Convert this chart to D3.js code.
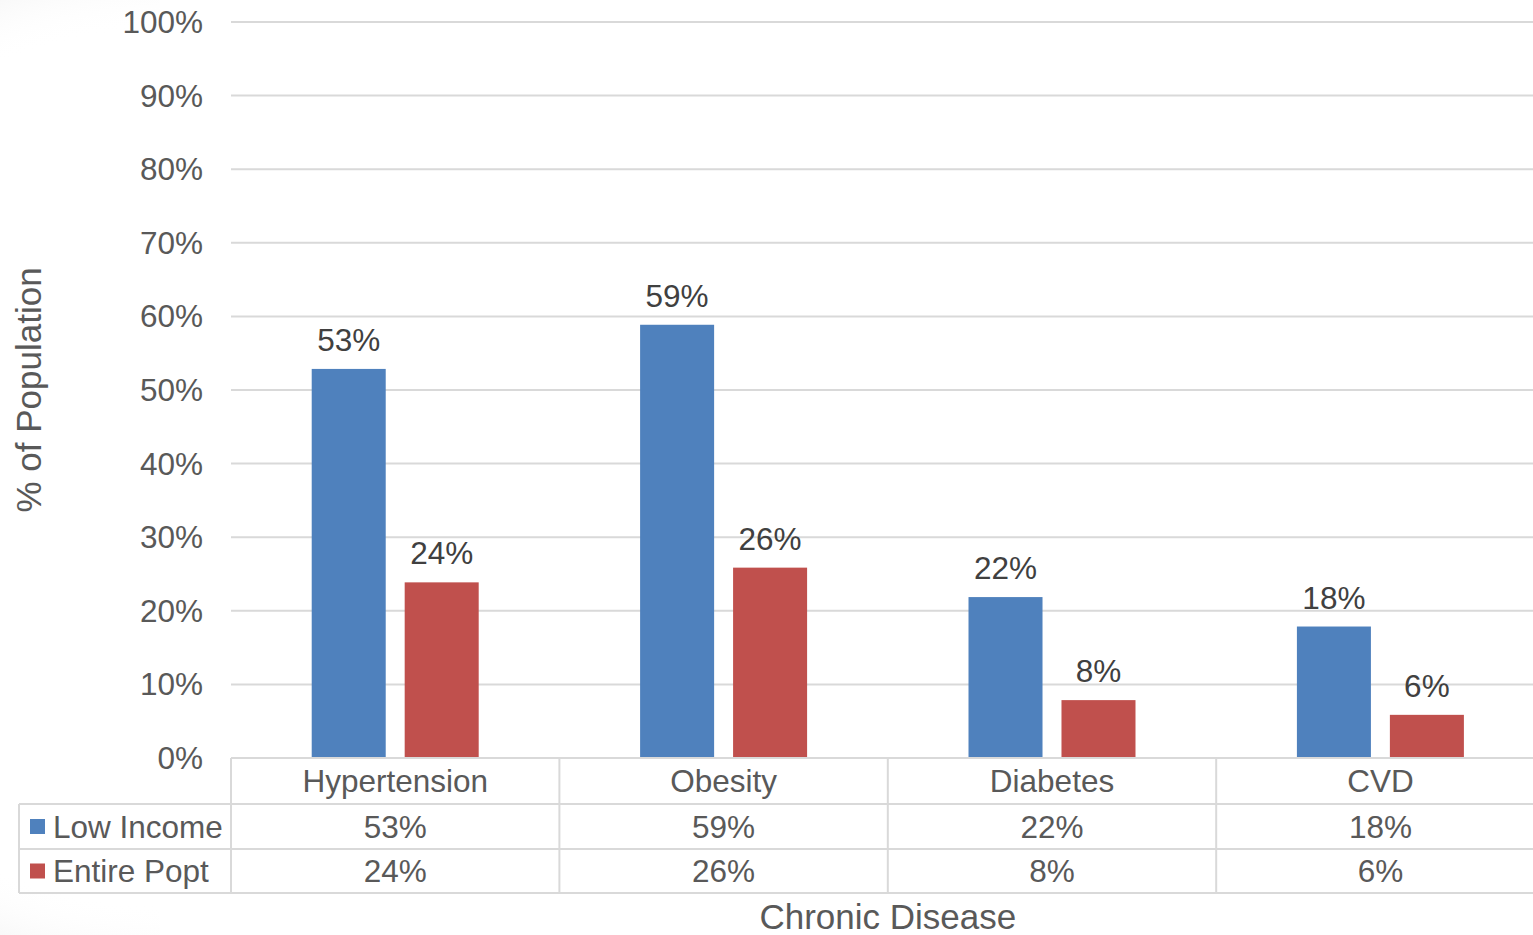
<!DOCTYPE html>
<html>
<head>
<meta charset="utf-8">
<script src="https://cdn.jsdelivr.net/npm/d3@7"></script>
<style>
  html, body { margin: 0; padding: 0; background: #ffffff; overflow: hidden; }
  svg { display: block; font-family: "Liberation Sans", Arial, sans-serif; }
</style>
</head>
<body>
<svg id="chart" width="1533" height="935"></svg>
<script>
const categories = ["Hypertension", "Obesity", "Diabetes", "CVD"];
const seriesNames = ["Low Income", "Entire Popt"];
const lowIncome = [0.53, 0.59, 0.22, 0.18];
const entirePopt = [0.24, 0.26, 0.08, 0.06];
const yTicks = [0, 0.1, 0.2, 0.3, 0.4, 0.5, 0.6, 0.7, 0.8, 0.9, 1.0];
const colors = ["#4F81BD", "#C0504D"];

const seriesValues = [lowIncome, entirePopt];

const svg = d3.select("#chart");
const FS = 31.5;

// faint slide background vignette on the left
const defs = svg.append("defs");
svg.append("rect").attr("x", 0).attr("y", 0).attr("width", 1533).attr("height", 935).attr("fill", "#ffffff");
const rg2 = defs.append("radialGradient").attr("id", "corner")
  .attr("gradientUnits", "userSpaceOnUse")
  .attr("cx", 170).attr("cy", 467).attr("r", 560);
rg2.append("stop").attr("offset", "0.78").attr("stop-color", "#ffffff").attr("stop-opacity", 0);
rg2.append("stop").attr("offset", "1").attr("stop-color", "#e4e4e4").attr("stop-opacity", 1);
svg.append("rect").attr("x", 0).attr("y", 0).attr("width", 160).attr("height", 935).attr("fill", "url(#corner)");

const x0 = 231, bandW = 328.4;
const x = d3.scaleBand().domain(categories).range([x0, x0 + bandW * categories.length]).padding(0);
const xs = d3.scaleBand().domain(seriesNames).range([0, x.bandwidth()])
  .paddingInner(0.204).paddingOuter(0.868);
const y = d3.scaleLinear().domain([0, 1]).range([758, 22]);

const gridColor = "#d9d9d9";
const textColor = "#595959";
const xRight = x0 + bandW * categories.length;

// gridlines
svg.append("g").selectAll("line").data(yTicks).join("line")
  .attr("x1", x0).attr("x2", xRight)
  .attr("y1", d => y(d)).attr("y2", d => y(d))
  .attr("stroke", gridColor).attr("stroke-width", 2);

// y tick labels
svg.append("g").selectAll("text").data(yTicks).join("text")
  .attr("x", 203).attr("y", d => y(d) + 11)
  .attr("text-anchor", "end")
  .attr("font-size", FS).attr("fill", textColor)
  .text(d => d3.format(".0%")(d));

// bars
const groups = svg.append("g").selectAll("g").data(categories).join("g")
  .attr("transform", d => `translate(${x(d)},0)`);
groups.selectAll("rect").data((d, i) => seriesNames.map((s, j) => ({ s, j, v: seriesValues[j][i] })))
  .join("rect")
  .attr("x", d => xs(d.s)).attr("width", xs.bandwidth())
  .attr("y", d => y(d.v) + 1).attr("height", d => y(0) - y(d.v) - 1)
  .attr("fill", d => colors[d.j]);
groups.selectAll("text").data((d, i) => seriesNames.map((s, j) => ({ s, j, v: seriesValues[j][i] })))
  .join("text")
  .attr("x", d => xs(d.s) + xs.bandwidth() / 2)
  .attr("y", d => y(d.v) - 17)
  .attr("text-anchor", "middle")
  .attr("font-size", FS).attr("fill", "#404040")
  .text(d => d3.format(".0%")(d.v));

// data table
const rowTop = [758, 804, 849, 893];
const tbl = svg.append("g");
tbl.append("line").attr("x1", x0).attr("x2", xRight).attr("y1", rowTop[0]).attr("y2", rowTop[0]);
[1, 2, 3].forEach(i => {
  tbl.append("line").attr("x1", 19).attr("x2", xRight).attr("y1", rowTop[i]).attr("y2", rowTop[i]);
});
tbl.append("line").attr("x1", 19).attr("x2", 19).attr("y1", rowTop[1]).attr("y2", rowTop[3]);
tbl.selectAll("line.v").data(categories).join("line").attr("class", "v")
  .attr("x1", d => x(d)).attr("x2", d => x(d)).attr("y1", rowTop[0]).attr("y2", rowTop[3]);
tbl.selectAll("line").attr("stroke", gridColor).attr("stroke-width", 2);

// category row
tbl.selectAll("text.cat").data(categories).join("text").attr("class", "cat")
  .attr("x", d => x(d) + x.bandwidth() / 2).attr("y", 792)
  .attr("text-anchor", "middle").attr("font-size", FS).attr("fill", textColor)
  .text(d => d);

// series rows
seriesNames.forEach((s, j) => {
  const cy = (rowTop[j + 1] + rowTop[j + 2]) / 2;
  tbl.append("rect").attr("x", 30).attr("y", cy - 7.5).attr("width", 15).attr("height", 15).attr("fill", colors[j]);
  tbl.append("text").attr("x", 53).attr("y", cy + 11).attr("font-size", FS).attr("fill", textColor).text(s);
  tbl.selectAll("text.v" + j).data(categories).join("text").attr("class", "v" + j)
    .attr("x", d => x(d) + x.bandwidth() / 2).attr("y", cy + 11)
    .attr("text-anchor", "middle").attr("font-size", FS).attr("fill", textColor)
    .text((d, i) => d3.format(".0%")(seriesValues[j][i]));
});

// axis titles
svg.append("text").attr("x", (x0 + xRight) / 2).attr("y", 929)
  .attr("text-anchor", "middle").attr("font-size", 35).attr("fill", textColor)
  .text("Chronic Disease");
svg.append("text").attr("transform", "translate(41,390) rotate(-90)")
  .attr("text-anchor", "middle").attr("font-size", 35).attr("fill", textColor)
  .text("% of Population");
</script>
</body>
</html>
